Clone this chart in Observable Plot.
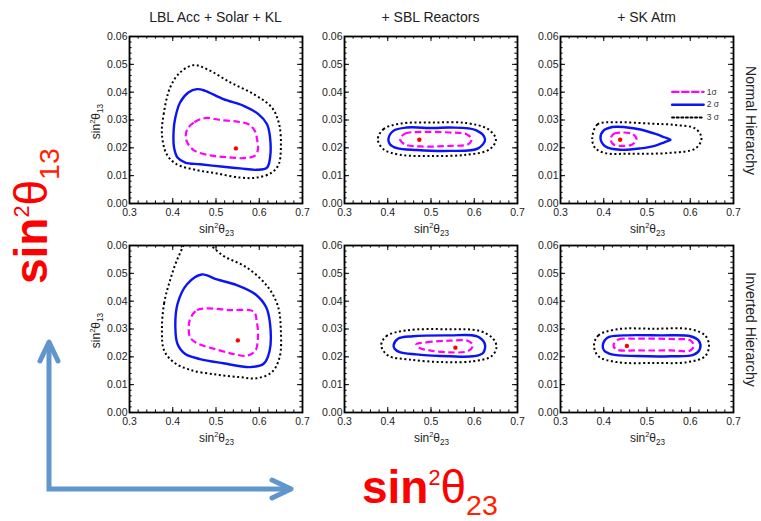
<!DOCTYPE html>
<html><head><meta charset="utf-8">
<script src="https://cdn.jsdelivr.net/npm/d3@7"></script>
<script src="https://cdn.jsdelivr.net/npm/@observablehq/plot@0.6"></script>
<style>
body{margin:0;background:#fff;}
#root{position:relative;width:761px;height:521px;overflow:hidden;background:#fff;font-family:"Liberation Sans",Arial,Helvetica,sans-serif;}
#root > svg, #root > .panel{position:absolute;}
#overlay{left:0;top:0;pointer-events:none;}
</style></head>
<body><div id="root"></div>
<script>
// ---- tick labels and headings ----
const xTicks = [0.3, 0.4, 0.5, 0.6, 0.7];
const yTicks = [0, 0.01, 0.02, 0.03, 0.04, 0.05, 0.06];
const columns = ["LBL Acc + Solar + KL", "+ SBL Reactors", "+ SK Atm"];
const rows = ["Normal Hierarchy", "Inverted Hierarchy"];
const sigmaLabels = ["1σ", "2 σ", "3 σ"];

// ---- contours [sin²θ23, sin²θ13] ----
const nhLbl1 = [[0.434,0.0268],[0.450,0.0292],[0.475,0.0307],[0.510,0.0300],[0.550,0.0294],[0.575,0.0285],[0.590,0.0260],[0.595,0.0230],[0.597,0.0195],[0.590,0.0172],[0.565,0.0163],[0.530,0.0166],[0.490,0.0172],[0.450,0.0190],[0.435,0.0215],[0.430,0.0240]];
const nhLbl2 = [[0.402,0.0261],[0.406,0.0309],[0.417,0.0363],[0.436,0.0399],[0.456,0.0411],[0.475,0.0405],[0.517,0.0375],[0.564,0.0351],[0.598,0.0321],[0.618,0.0285],[0.625,0.0237],[0.625,0.0165],[0.618,0.0129],[0.594,0.0121],[0.556,0.0126],[0.517,0.0132],[0.463,0.0141],[0.429,0.0147],[0.411,0.0165],[0.403,0.0201]];
const nhLbl3 = [[0.375,0.0249],[0.379,0.0321],[0.394,0.0417],[0.417,0.0471],[0.448,0.0497],[0.479,0.0483],[0.533,0.0435],[0.587,0.0393],[0.629,0.0345],[0.646,0.0285],[0.650,0.0201],[0.645,0.0141],[0.629,0.0111],[0.594,0.0093],[0.556,0.0093],[0.502,0.0108],[0.456,0.0120],[0.409,0.0141],[0.386,0.0177]];

const nhSbl1 = [[0.4285,0.0231],[0.440,0.0251],[0.475,0.0257],[0.544,0.0255],[0.582,0.0249],[0.594,0.0231],[0.586,0.0213],[0.544,0.0207],[0.475,0.0205],[0.440,0.0212]];
const nhSbl2 = [[0.4015,0.0231],[0.413,0.0261],[0.444,0.0273],[0.505,0.0271],[0.544,0.0273],[0.605,0.0263],[0.625,0.0231],[0.609,0.0198],[0.544,0.0189],[0.467,0.0192],[0.421,0.0199],[0.405,0.0213]];
const nhSbl3 = [[0.377,0.0231],[0.390,0.0267],[0.4285,0.0287],[0.505,0.0291],[0.582,0.0289],[0.632,0.0267],[0.650,0.0231],[0.636,0.0195],[0.582,0.0175],[0.505,0.0171],[0.4285,0.0175],[0.390,0.0195]];

const nhAtm1 = [[0.4156,0.0231],[0.423,0.0250],[0.443,0.0255],[0.466,0.0250],[0.4757,0.0231],[0.466,0.0212],[0.443,0.0207],[0.423,0.0212]];
const nhAtm2 = [[0.3925,0.0234],[0.3994,0.0262],[0.4202,0.0275],[0.4503,0.0274],[0.485,0.0266],[0.5197,0.0250],[0.540,0.0238],[0.5543,0.0229],[0.540,0.0220],[0.5197,0.0208],[0.485,0.0198],[0.4387,0.0193],[0.404,0.0205]];
const nhAtm3 = [[0.3733,0.0232],[0.3855,0.0284],[0.4272,0.0292],[0.5081,0.0287],[0.5659,0.0282],[0.6121,0.0269],[0.626,0.0234],[0.6121,0.0198],[0.5543,0.0182],[0.4618,0.0179],[0.404,0.0181],[0.3809,0.0198]];

const ihLbl1 = [[0.440,0.0336],[0.456,0.0368],[0.479,0.0374],[0.533,0.0368],[0.587,0.0363],[0.594,0.0330],[0.597,0.0270],[0.591,0.0222],[0.571,0.0204],[0.541,0.0210],[0.502,0.0226],[0.456,0.0249],[0.440,0.0270],[0.437,0.0306]];
const ihLbl2 = [[0.406,0.0306],[0.411,0.0390],[0.433,0.0461],[0.467,0.0496],[0.502,0.0478],[0.548,0.0458],[0.591,0.0425],[0.616,0.0378],[0.625,0.0318],[0.624,0.0222],[0.610,0.0175],[0.579,0.0163],[0.517,0.0177],[0.463,0.0192],[0.429,0.0210],[0.411,0.0246]];
const ihLbl3 = [[0.375,0.0294],[0.380,0.0392],[0.394,0.0476],[0.413,0.0559],[0.438,0.0625],[0.468,0.0622],[0.517,0.0563],[0.571,0.0521],[0.618,0.0455],[0.643,0.0383],[0.650,0.0294],[0.647,0.0198],[0.629,0.0145],[0.594,0.0123],[0.556,0.0127],[0.502,0.0136],[0.440,0.0153],[0.402,0.0181],[0.380,0.0223]];

const ihSbl1 = [[0.466,0.0245],[0.489,0.0252],[0.543,0.0258],[0.586,0.0257],[0.597,0.0241],[0.586,0.0221],[0.543,0.0216],[0.497,0.0223],[0.472,0.0233]];
const ihSbl2 = [[0.4135,0.0241],[0.4236,0.0265],[0.4583,0.0274],[0.5432,0.0277],[0.605,0.0274],[0.6243,0.0247],[0.6205,0.0214],[0.5973,0.0202],[0.5432,0.0202],[0.466,0.0209],[0.4274,0.0217],[0.4158,0.0229]];
const ihSbl3 = [[0.3849,0.0241],[0.3965,0.0274],[0.4429,0.0295],[0.5432,0.0299],[0.6127,0.0293],[0.6436,0.0265],[0.6514,0.0235],[0.6398,0.0202],[0.5973,0.0184],[0.5278,0.0181],[0.4506,0.0190],[0.4004,0.0205]];

const ihAtm1 = [[0.4225,0.0241],[0.4341,0.0262],[0.4767,0.0265],[0.5543,0.0264],[0.600,0.0259],[0.608,0.0241],[0.600,0.0223],[0.5543,0.0223],[0.4767,0.0223],[0.4302,0.0226]];
const ihAtm2 = [[0.3977,0.0241],[0.4085,0.0269],[0.4457,0.0277],[0.531,0.0277],[0.6008,0.0274],[0.6202,0.0257],[0.6225,0.0229],[0.6085,0.0208],[0.5543,0.0202],[0.4767,0.0203],[0.4186,0.0209],[0.4008,0.0223]];
const ihAtm3 = [[0.3775,0.0241],[0.3876,0.0277],[0.4302,0.0299],[0.5155,0.0301],[0.6008,0.0299],[0.6341,0.0277],[0.6434,0.0241],[0.6341,0.0202],[0.593,0.0181],[0.5155,0.0178],[0.4302,0.0181],[0.3876,0.0202]];

// best-fit points
const nhBest = [[0.546,0.0198],[0.473,0.0229],[0.438,0.0229]];
const ihBest = [[0.5505,0.0259],[0.5564,0.0233],[0.4535,0.0239]];

// ---- layout ----
const FW = 173, FH = 167;
const ML = 34, MR = 6, MT = 6, MB = 22;
const colX = [129, 344, 560];
const rowY = [36, 245];
const root = document.getElementById("root");

const styles = [
  {stroke: "#ff00ff", strokeWidth: 2.2, strokeDasharray: "6.5,3.5"},
  {stroke: "#0a14f5", strokeWidth: 2.4, strokeDasharray: null},
  {stroke: "#000000", strokeWidth: 2.0, strokeDasharray: "2,2.6"}
];

const panels = [
  {row:0,col:0,c:[nhLbl1,nhLbl2,nhLbl3],best:nhBest[0]},
  {row:0,col:1,c:[nhSbl1,nhSbl2,nhSbl3],best:nhBest[1]},
  {row:0,col:2,c:[nhAtm1,nhAtm2,nhAtm3],best:nhBest[2],legend:true},
  {row:1,col:0,c:[ihLbl1,ihLbl2,ihLbl3],best:ihBest[0]},
  {row:1,col:1,c:[ihSbl1,ihSbl2,ihSbl3],best:ihBest[1]},
  {row:1,col:2,c:[ihAtm1,ihAtm2,ihAtm3],best:ihBest[2]}
];

const minorX = d3.range(0, 21).map(i => 0.3 + i * 0.02);
const minorY = d3.range(0, 31).map(i => i * 0.002);
const MAJ = 5, MIN = 2.6;

function ticksMarks() {
  const o = {stroke: "black", strokeWidth: 1};
  return [
    Plot.tickX(minorX, {...o, x: d => d, insetTop: FH - MIN}),
    Plot.tickX(minorX, {...o, x: d => d, insetBottom: FH - MIN}),
    Plot.tickX(xTicks, {...o, x: d => d, insetTop: FH - MAJ}),
    Plot.tickX(xTicks, {...o, x: d => d, insetBottom: FH - MAJ}),
    Plot.tickY(minorY, {...o, y: d => d, insetRight: FW - MIN}),
    Plot.tickY(minorY, {...o, y: d => d, insetLeft: FW - MIN}),
    Plot.tickY(yTicks, {...o, y: d => d, insetRight: FW - MAJ}),
    Plot.tickY(yTicks, {...o, y: d => d, insetLeft: FW - MAJ})
  ];
}

panels.forEach(p => {
  const marks = [];
  p.c.slice().reverse().forEach((curve, k) => {
    const s = styles[2 - k];
    marks.push(Plot.line(curve, {x: d => d[0], y: d => d[1], curve: "catmull-rom-closed", clip: true,
      stroke: s.stroke, strokeWidth: s.strokeWidth, strokeDasharray: s.strokeDasharray, strokeLinecap: "butt"}));
  });
  marks.push(Plot.dot([p.best], {x: d => d[0], y: d => d[1], r: 2.2, fill: "#ff0000", stroke: null}));
  if (p.legend) {
    sigmaLabels.forEach((lab, i) => {
      const yy = 0.0401 - i * 0.0046;
      const s = styles[i];
      marks.push(Plot.line([[0.558, yy], [0.631, yy]], {x: d => d[0], y: d => d[1],
        stroke: s.stroke, strokeWidth: s.strokeWidth, strokeDasharray: s.strokeDasharray}));
      marks.push(Plot.text([lab], {x: 0.638, y: yy, text: d => d, textAnchor: "start", fontSize: 8.5, fill: "#333"}));
    });
  }
  marks.push(...ticksMarks());
  marks.push(Plot.frame({stroke: "black", strokeWidth: 1.8}));
  marks.push(Plot.axisX(xTicks, {tickSize: 0, tickPadding: 5, tickFormat: d => d.toFixed(1), label: null, fontSize: 10.5, fill: "#222"}));
  marks.push(Plot.axisY(yTicks, {tickSize: 0, tickPadding: 2, tickFormat: d => d.toFixed(2), label: null, fontSize: 10.5, fill: "#222"}));

  const chart = Plot.plot({
    width: FW + ML + MR, height: FH + MT + MB,
    marginLeft: ML, marginRight: MR, marginTop: MT, marginBottom: MB,
    x: {domain: [0.3, 0.7]},
    y: {domain: [0, 0.06]},
    style: {fontFamily: '"Liberation Sans", Arial, sans-serif', fontSize: "10.5px", background: "transparent", overflow: "visible"},
    marks
  });
  chart.classList.add("panel");
  chart.style.left = (colX[p.col] - ML) + "px";
  chart.style.top = (rowY[p.row] - MT) + "px";
  root.appendChild(chart);
});

// ---- overlay: titles, axis labels, big annotations ----
const NS = "http://www.w3.org/2000/svg";
const ov = document.createElementNS(NS, "svg");
ov.setAttribute("id", "overlay");
ov.setAttribute("width", 761); ov.setAttribute("height", 521);
ov.setAttribute("font-family", '"Liberation Sans", Arial, sans-serif');
root.appendChild(ov);

function el(tag, attrs, parent = ov) {
  const e = document.createElementNS(NS, tag);
  for (const k in attrs) e.setAttribute(k, attrs[k]);
  parent.appendChild(e);
  return e;
}
function sinLabel(parent, sub, size, opts = {}) {
  const t = el("text", {"text-anchor": opts.anchor || "middle", fill: opts.fill || "#222", "font-size": size}, parent);
  const a = el("tspan", {"font-weight": opts.bold ? "bold" : "normal"}, t); a.textContent = "sin";
  const supSize = size * (opts.supScale || 0.62), subSize = size * (opts.subScale || 0.68);
  const up = size * (opts.supUp || 0.42), down = size * (opts.subDown || 0.28);
  const b = el("tspan", {"font-size": supSize, dy: -up, fill: opts.supFill || opts.fill || "#222"}, t); b.textContent = "2";
  const c = el("tspan", {dy: up, fill: opts.fill || "#222"}, t); c.textContent = "θ";
  const d = el("tspan", {"font-size": subSize, dy: down, fill: opts.subFill || opts.fill || "#222"}, t); d.textContent = sub;
  return t;
}

columns.forEach((c, i) => {
  const t = el("text", {x: colX[i] + FW / 2, y: 22, "text-anchor": "middle", "font-size": 14, fill: "#222"});
  t.textContent = c;
});
rows.forEach((r, i) => {
  const t = el("text", {transform: `translate(746,${rowY[i] + FH / 2 + 1}) rotate(90)`, "text-anchor": "middle", "font-size": 14, fill: "#222"});
  t.textContent = r;
});
rowY.forEach(ry => {
  colX.forEach(cx => {
    const g = el("g", {transform: `translate(${cx + FW / 2 + 1},${ry + FH + 30})`});
    sinLabel(g, "23", 12, {});
  });
  const g2 = el("g", {transform: `translate(100,${ry + FH / 2 + 2}) rotate(-90)`});
  sinLabel(g2, "13", 12, {});
});

// arrows
const blue = "#6196cc";
el("path", {d: "M49,343 V489 H289", stroke: blue, "stroke-width": 5, fill: "none", "stroke-linejoin": "miter"});
el("path", {d: "M40,361 L49,342 L58,361", stroke: blue, "stroke-width": 5, fill: "none", "stroke-linecap": "round", "stroke-linejoin": "round"});
el("path", {d: "M272,480 L291,489 L272,498", stroke: blue, "stroke-width": 5, fill: "none", "stroke-linecap": "round", "stroke-linejoin": "round"});

// big red labels
const bigOpts = {anchor: "start", fill: "#ff0000", subFill: "#ff2200", bold: true, supScale: 0.47, subScale: 0.62, supUp: 0.40, subDown: 0.26};
const gB = el("g", {transform: "translate(362,503)"});
sinLabel(gB, "23", 46, bigOpts);
const gL = el("g", {transform: "translate(47,284) rotate(-90)"});
sinLabel(gL, "13", 46, bigOpts);
</script>
</body></html>
